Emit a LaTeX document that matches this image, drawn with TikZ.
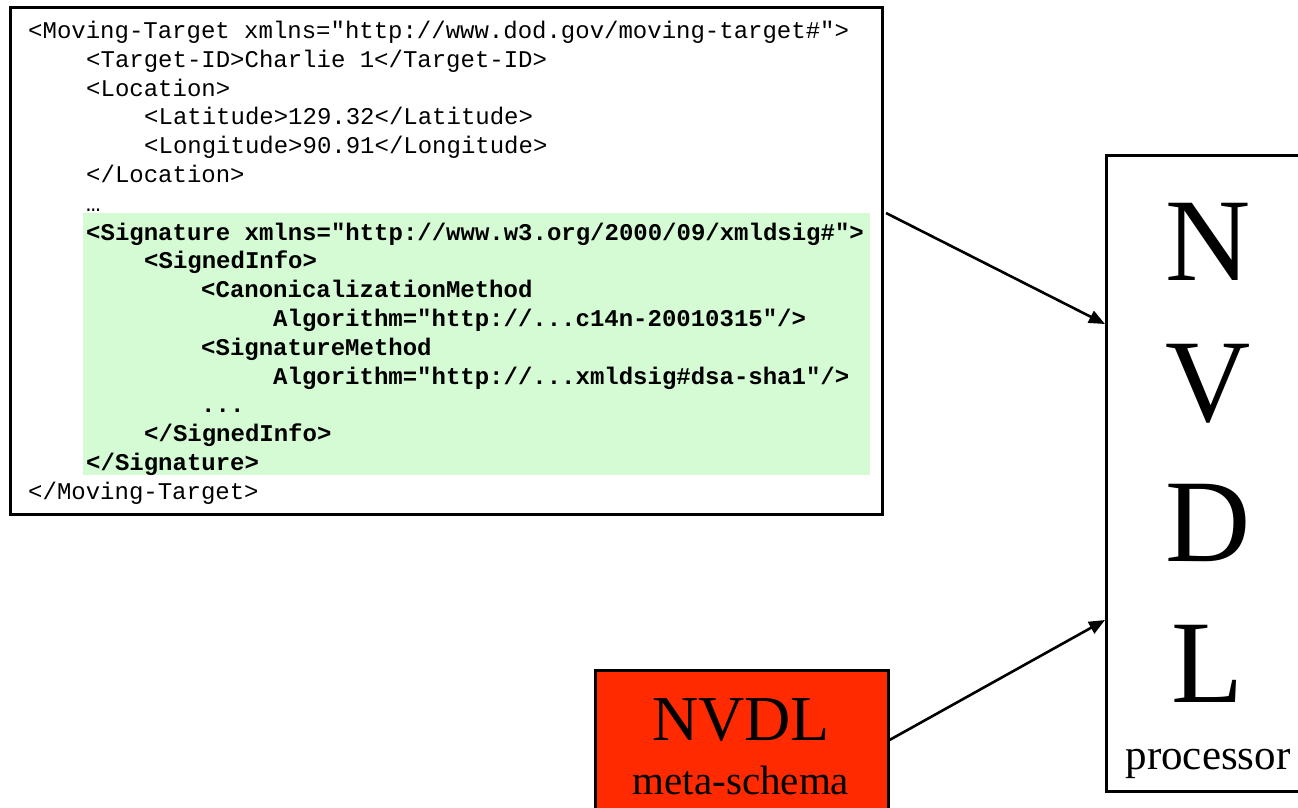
\documentclass[tikz,border=0pt]{standalone}
\usepackage{fontspec}
\setmainfont{Liberation Serif}
\newfontfamily\codefam{Liberation Mono}
\usetikzlibrary{arrows.meta}

\definecolor{siggreen}{RGB}{213,251,213}
\definecolor{schemared}{RGB}{255,42,0}

\tikzset{
  code/.style={anchor=base west, inner sep=0pt,
    font=\codefam\fontsize{24}{28.8}\selectfont},
  codeb/.style={code, font=\codefam\bfseries\fontsize{24}{28.8}\selectfont},
  bigletter/.style={anchor=base, inner sep=0pt,
    font=\fontsize{118}{120}\selectfont},
  boxline/.style={draw=black, line width=3pt},
  link/.style={draw=black, line width=2.6pt,
    -{Triangle[length=16pt,width=13pt]}},
}

\begin{document}
\begin{tikzpicture}[x=1pt, y=-1pt]
\useasboundingbox (0,0) rectangle (1298,807);
\fill[white] (0,0) rectangle (1298,807);

% XML document frame and the highlighted signature block
\node[boxline, fill=white, anchor=north west, minimum width=872pt,
      minimum height=507pt, inner sep=0pt] (xml) at (9,6) {};
\node[fill=siggreen, anchor=north west, minimum width=787pt,
      minimum height=262pt, inner sep=0pt] (sig) at (83,213) {};

% XML source lines
\node[code]  (l1)  at (28,38.5)  {<Moving-Target xmlns="http://www.dod.gov/moving-target\#">};
\node[code]  (l2)  at (86,67.3)  {<Target-ID>Charlie 1</Target-ID>};
\node[code]  (l3)  at (86,96.1)  {<Location>};
\node[code]  (l4)  at (144,124.9) {<Latitude>129.32</Latitude>};
\node[code]  (l5)  at (144,153.7) {<Longitude>90.91</Longitude>};
\node[code]  (l6)  at (86,182.5) {</Location>};
\node[code]  (l7)  at (86,211.3) {…};
\node[codeb] (l8)  at (86,240.1) {<Signature xmlns="http://www.w3.org/2000/09/xmldsig\#">};
\node[codeb] (l9)  at (144,268.9) {<SignedInfo>};
\node[codeb] (l10) at (201,297.7) {<CanonicalizationMethod};
\node[codeb] (l11) at (273,326.5) {Algorithm="http://...c14n-20010315"/>};
\node[codeb] (l12) at (201,355.3) {<SignatureMethod};
\node[codeb] (l13) at (273,384.1) {Algorithm="http://...xmldsig\#dsa-sha1"/>};
\node[codeb] (l14) at (201,412.9) {...};
\node[codeb] (l15) at (144,441.7) {</SignedInfo>};
\node[codeb] (l16) at (86,470.5) {</Signature>};
\node[code]  (l17) at (28,499.3) {</Moving-Target>};

% NVDL processor
\node[boxline, fill=white, anchor=north west, minimum width=212pt,
      minimum height=636pt, inner sep=0pt] (proc) at (1105,154) {};
\node[bigletter] (pN) at (1208,280) {N};
\node[bigletter] (pV) at (1208,421) {V};
\node[bigletter] (pD) at (1208,561) {D};
\node[bigletter] (pL) at (1208,702) {L};
\node[anchor=base, inner sep=0pt, font=\fontsize{43}{45}\selectfont]
  (ptext) at (1208,769) {processor};

% NVDL meta-schema
\node[draw=black, line width=2.5pt, fill=schemared, anchor=north west,
      minimum width=293pt, minimum height=170pt, inner sep=0pt] (meta) at (594,669) {};
\node[anchor=base, inner sep=0pt, font=\fontsize{64}{66}\selectfont]
  (mtitle) at (741,740) {NVDL};
\node[anchor=base, inner sep=0pt, font=\fontsize{41}{43}\selectfont]
  (msub) at (741,794) {meta-schema};

% connectors
\coordinate (xmlout) at ([xshift=2pt]xml.east |- sig.north);
\coordinate (procin1) at ([yshift=-170pt]proc.north west);
\coordinate (metaout) at ([yshift=-71pt]meta.north east);
\coordinate (procin2) at ([yshift=-466pt]proc.north west);
\draw[link] (xmlout) -- (procin1);
\draw[link] (metaout) -- (procin2);
\end{tikzpicture}
\end{document}
